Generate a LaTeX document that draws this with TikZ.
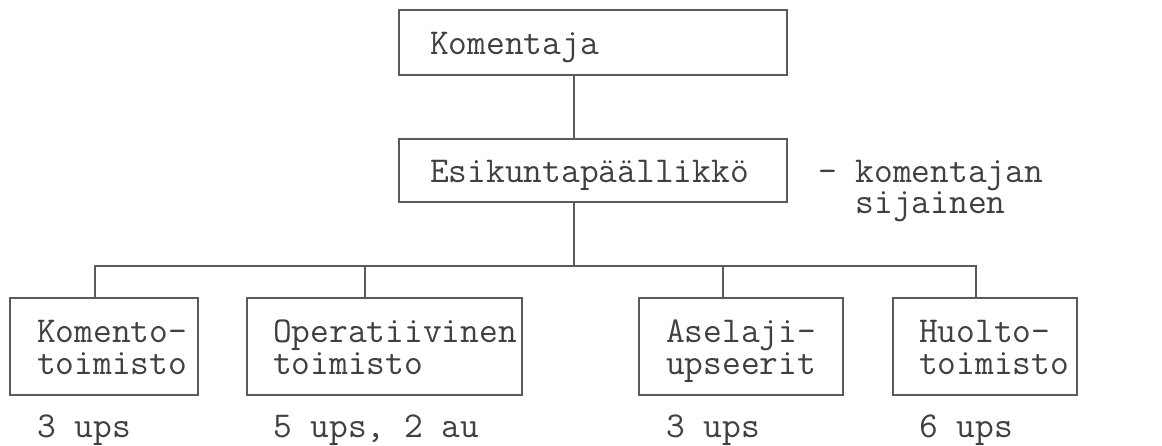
\documentclass[tikz,border=0pt]{standalone}
\usepackage{fontspec}
\begin{document}
\begin{tikzpicture}[x=1pt,y=-1pt,
  box/.style={draw=linec, line width=1.5pt, rectangle, inner sep=0pt},
  txt/.style={anchor=base west, inner sep=0pt, align=left, text=textc, font=\ttfamily\fontsize{36.4}{32}\selectfont},
  conn/.style={draw=linec, line width=1.5pt}]
\definecolor{linec}{HTML}{5A5A5A}
\definecolor{textc}{HTML}{404040}
\useasboundingbox (0,0) rectangle (1162,445);
% boxes
\node[box, minimum width=388pt, minimum height=65pt] (top) at (593,42.5) {};
\node[box, minimum width=388pt, minimum height=63pt] (mid) at (593,170.5) {};
\node[box, minimum width=188pt, minimum height=97pt] (b1) at (104,346.5) {};
\node[box, minimum width=275pt, minimum height=97pt] (b2) at (384.5,346.5) {};
\node[box, minimum width=204pt, minimum height=97pt] (b3) at (741,346.5) {};
\node[box, minimum width=184pt, minimum height=97pt] (b4) at (985,346.5) {};
% texts (base anchor = baseline of last line)
\node[txt] (t0) at (430,54) {Komentaja};
\node[txt] (t1) at (430,182) {Esikuntapäällikkö};
\node[txt, font=\ttfamily\fontsize{36.4}{31}\selectfont] (s1) at (818,213) {- komentajan\\\phantom{- }sijainen};
\node[txt] (k1) at (37,374) {Komento-\\toimisto};
\node[txt] (o1) at (273,374) {Operatiivinen\\toimisto};
\node[txt] (a1) at (666,374) {Aselaji-\\upseerit};
\node[txt] (h1) at (919,374) {Huolto-\\toimisto};
\node[txt] (l1) at (37,437) {3 ups};
\node[txt] (l2) at (273,437) {5 ups, 2 au};
\node[txt] (l3) at (666,437) {3 ups};
\node[txt] (l4) at (919,437) {6 ups};
% connectors
\coordinate (c) at (574,266);
\coordinate (d1) at (95,266);
\coordinate (d2) at (365,266);
\coordinate (d3) at (723,266);
\coordinate (d4) at (976,266);
\draw[conn] (top.south -| c) -- (mid.north -| c);
\draw[conn] (mid.south -| c) -- (c);
\draw[conn] (b1.north -| d1) -- (d1) -- (d4) -- (b4.north -| d4);
\draw[conn] (d2) -- (b2.north -| d2);
\draw[conn] (d3) -- (b3.north -| d3);
\end{tikzpicture}
\end{document}
